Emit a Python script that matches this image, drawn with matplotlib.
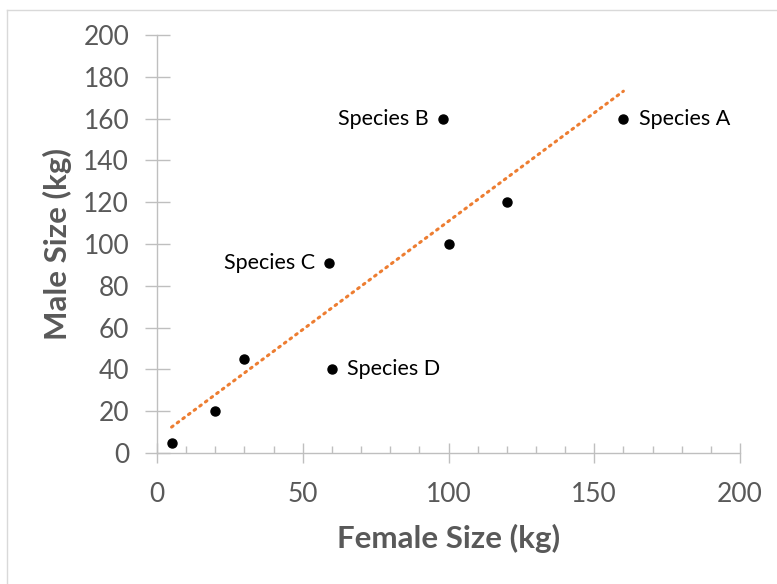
import numpy as np
import matplotlib
matplotlib.use("Agg")
import matplotlib.pyplot as plt
from matplotlib.lines import Line2D
from matplotlib.ticker import MultipleLocator

female = [5, 20, 30, 60, 59, 100, 120, 98, 160]
male = [5, 20, 45, 40, 91, 100, 120, 160, 160]
labels = ["", "", "", "Species D", "Species C", "", "", "Species B", "Species A"]
label_side = ["", "", "", "right", "left", "", "", "left", "right"]

plt.rcParams['font.family'] = ['Lato', 'DejaVu Sans']

fig = plt.figure(figsize=(7.77, 5.84), dpi=100)
ax = fig.add_axes([157/777, 1-453/584, (740-157)/777, (453-35)/584])

gray_txt = '#595959'
axis_col = '#bfbfbf'

# trendline (least squares)
coef = np.polyfit(female, male, 1)
xt = np.array([min(female), max(female)])
ax.plot(xt, np.polyval(coef, xt), color='#ED7D31', lw=2.2,
        linestyle=(0, (0.6, 1.7)), dash_capstyle='round', zorder=2)

ax.plot(female, male, 'o', color='black', ms=6.5, zorder=3, clip_on=False)

for x, y, t, s in zip(female, male, labels, label_side):
    if not t:
        continue
    if s == 'right':
        ax.annotate(t, (x, y), xytext=(11, 0), textcoords='offset points',
                    ha='left', va='center', fontsize=15.5, color='black')
    else:
        ax.annotate(t, (x, y), xytext=(-10, 0), textcoords='offset points',
                    ha='right', va='center', fontsize=15.5, color='black')

ax.set_xlim(0, 200)
ax.set_ylim(0, 200)
ax.xaxis.set_major_locator(MultipleLocator(50))
ax.xaxis.set_minor_locator(MultipleLocator(10))
ax.yaxis.set_major_locator(MultipleLocator(20))

for sp in ['top', 'right']:
    ax.spines[sp].set_visible(False)
for sp in ['left', 'bottom']:
    ax.spines[sp].set_color(axis_col)
    ax.spines[sp].set_linewidth(1.0)

ax.tick_params(axis='x', which='major', direction='inout', length=14, width=1,
               color=axis_col, labelsize=19, labelcolor=gray_txt, pad=14)
ax.tick_params(axis='x', which='minor', direction='in', length=5, width=1,
               color=axis_col)
ax.tick_params(axis='y', which='major', direction='inout', length=18, width=1,
               color=axis_col, labelsize=19, labelcolor=gray_txt, pad=11)

ax.set_xlabel('Female Size (kg)', fontsize=22.5, fontweight='bold', color=gray_txt, labelpad=12)
ax.set_ylabel('Male Size (kg)', fontsize=22.5, fontweight='bold', color=gray_txt, labelpad=8)

# partial frame (top and left edges visible)
fig.add_artist(Line2D([7/777, 1.0], [1-10/584, 1-10/584], transform=fig.transFigure,
                      color='#d9d9d9', lw=1))
fig.add_artist(Line2D([7/777, 7/777], [0.0, 1-10/584], transform=fig.transFigure,
                      color='#d9d9d9', lw=1))

fig.savefig('out.png', dpi=100)
